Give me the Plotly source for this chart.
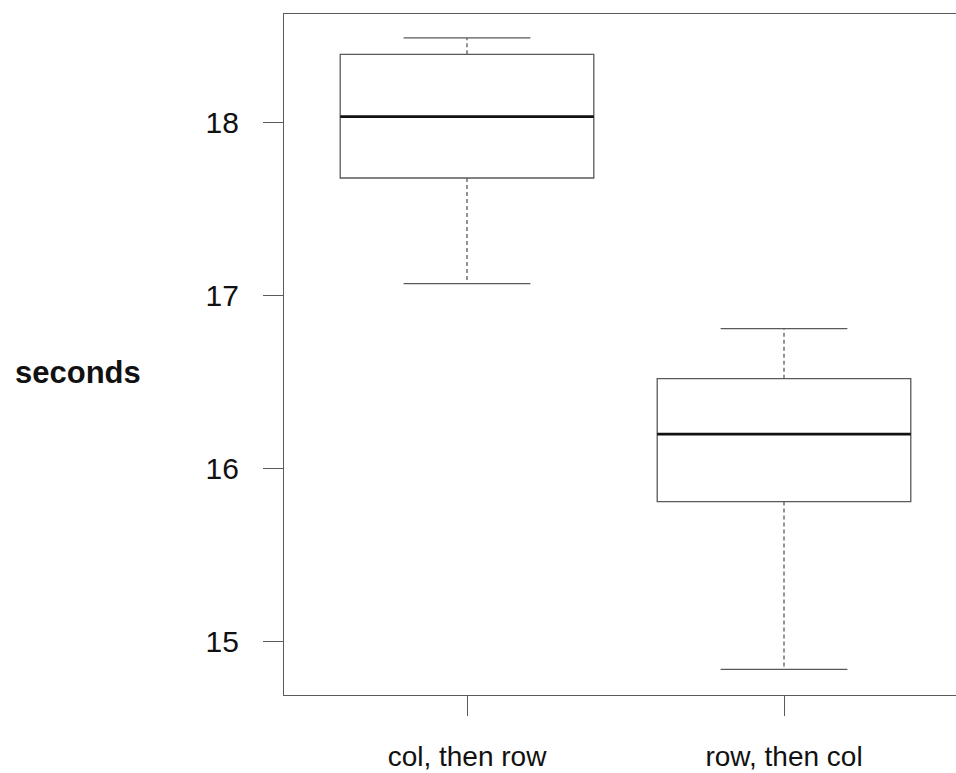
import plotly.graph_objects as go

# ---- data ----
categories = ["col, then row", "row, then col"]
lower_whisker = [17.07, 14.84]
q1 = [17.68, 15.81]
median = [18.035, 16.20]
q3 = [18.395, 16.52]
upper_whisker = [18.49, 16.81]
y_ticks = [15, 16, 17, 18]
y_label = "seconds"

LINE = "#5a5a5a"
BOX_W = 0.8
CAP_W = 0.4

pos = list(range(1, len(categories) + 1))

fig = go.Figure()

# box bodies (fences set to quartiles; whiskers drawn separately as dashed lines)
fig.add_trace(go.Box(
    x=pos, q1=q1, median=median, q3=q3,
    lowerfence=q1, upperfence=q3,
    width=BOX_W, whiskerwidth=0,
    fillcolor="white", line=dict(color=LINE, width=1.3),
    boxpoints=False, hoverinfo="skip", showlegend=False,
))

# dashed whiskers
wx, wy = [], []
for p, lo, a, b, hi in zip(pos, lower_whisker, q1, q3, upper_whisker):
    wx += [p, p, None, p, p, None]
    wy += [b, hi, None, a, lo, None]
fig.add_trace(go.Scatter(x=wx, y=wy, mode="lines",
                         line=dict(color=LINE, width=1.3, dash="4px,3px"),
                         hoverinfo="skip", showlegend=False))

# whisker caps
cx, cy = [], []
for p, lo, hi in zip(pos, lower_whisker, upper_whisker):
    cx += [p - CAP_W / 2, p + CAP_W / 2, None, p - CAP_W / 2, p + CAP_W / 2, None]
    cy += [hi, hi, None, lo, lo, None]
fig.add_trace(go.Scatter(x=cx, y=cy, mode="lines",
                         line=dict(color=LINE, width=1.3),
                         hoverinfo="skip", showlegend=False))

# thick medians
mx, my = [], []
for p, m in zip(pos, median):
    mx += [p - BOX_W / 2, p + BOX_W / 2, None]
    my += [m, m, None]
fig.add_trace(go.Scatter(x=mx, y=my, mode="lines",
                         line=dict(color="#111111", width=2.8),
                         hoverinfo="skip", showlegend=False))

fig.add_annotation(
    text="<b>" + y_label + "</b>", xref="paper", yref="paper",
    x=-0.3065, y=0.474, xanchor="center", yanchor="middle",
    showarrow=False, font=dict(family="Liberation Sans, Arial", size=31, color="#111111"),
)

fig.update_layout(
    width=956, height=773,
    margin=dict(l=284, r=0, t=14, b=78),
    paper_bgcolor="white", plot_bgcolor="white",
    font=dict(family="Liberation Sans, Arial", color="#111111"),
    xaxis=dict(
        range=[0.4227, 2.5426], tickmode="array", tickvals=pos, ticktext=categories,
        showgrid=False, zeroline=False, showline=True, mirror=True,
        linecolor=LINE, linewidth=1.3,
        ticks="outside", ticklen=20, tickwidth=1.3, tickcolor=LINE,
        tickfont=dict(size=28), ticklabelstandoff=16,
    ),
    yaxis=dict(
        range=[14.692, 18.628], tickmode="array", tickvals=y_ticks,
        showgrid=False, zeroline=False, showline=True, mirror=False,
        linecolor=LINE, linewidth=1.3,
        ticks="outside", ticklen=20, tickwidth=1.3, tickcolor=LINE,
        tickfont=dict(size=30), ticklabelstandoff=18,
    ),
)

fig.write_html(
    "out.html",
    config={"displayModeBar": False},
    post_script="document.body.style.margin='0';document.body.style.overflow='hidden';",
)
